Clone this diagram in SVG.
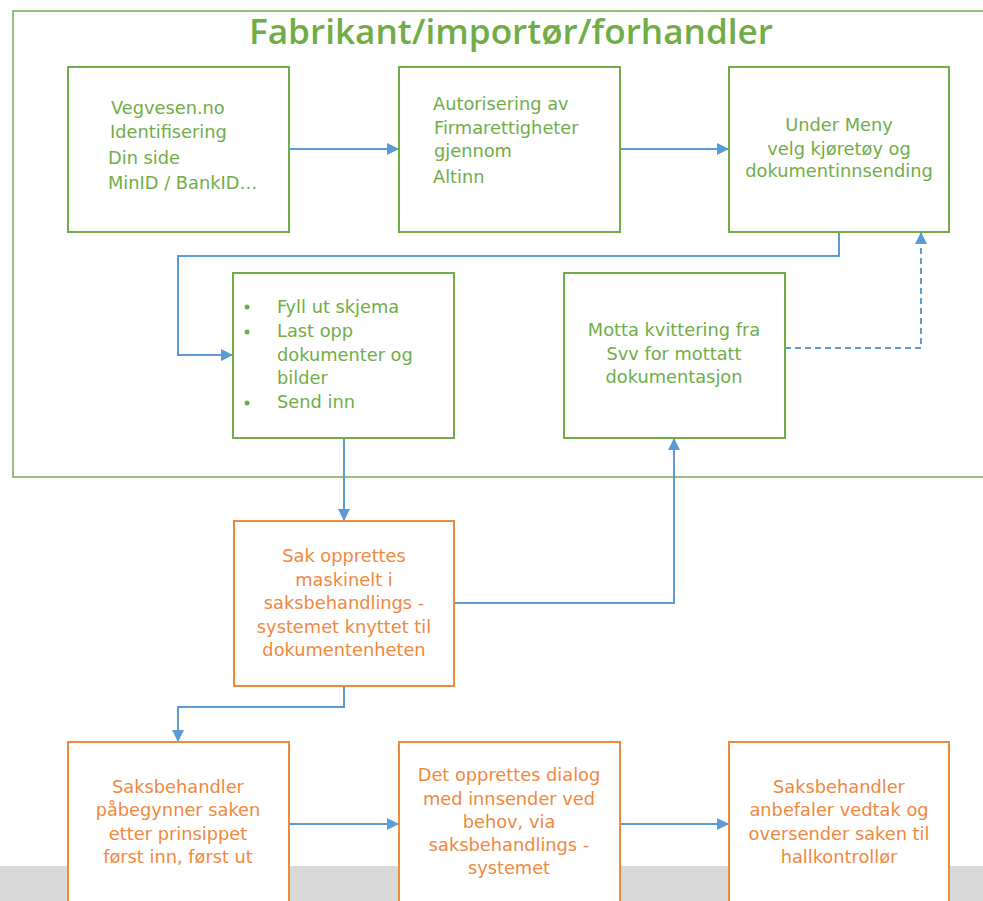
<svg xmlns="http://www.w3.org/2000/svg" width="983" height="901" viewBox="0 0 983 901">
<style>
.g{fill:#fff;stroke:#70ad47;stroke-width:2}
.o{fill:#fff;stroke:#f0883e;stroke-width:2}
.gt{fill:#70ad47;font-family:"DejaVu Sans",sans-serif;font-size:17.8px}
.ot{fill:#f0883e;font-family:"DejaVu Sans",sans-serif;font-size:17.8px;text-anchor:middle}
.c{text-anchor:middle}
.ln{fill:none;stroke:#5b9bd5;stroke-width:2}
.dash{stroke-dasharray:6 4}
</style>
<defs>
<marker id="ah" viewBox="0 0 10 10" refX="10" refY="5" markerWidth="13" markerHeight="12" orient="auto" markerUnits="userSpaceOnUse">
<path d="M0,0 L10,5 L0,10 Z" fill="#5b9bd5"/>
</marker>
</defs>
<rect x="0" y="866" width="983" height="35" fill="#d9d9d9"/>
<g id="container">
<rect x="13" y="11" width="980" height="466" fill="none" stroke="#70ad47" stroke-width="1.5"/>
<text x="511" y="44" text-anchor="middle" font-family="'Open Sans','DejaVu Sans',sans-serif" font-weight="600" font-size="35" fill="#70ad47" textLength="524" lengthAdjust="spacingAndGlyphs">Fabrikant/importør/forhandler</text>
</g>
<g id="connectors">
<path class="ln" d="M289,149 H399" marker-end="url(#ah)"/>
<path class="ln" d="M620,149 H729" marker-end="url(#ah)"/>
<path class="ln" d="M839,232 V256 H178 V355 H233" marker-end="url(#ah)"/>
<path class="ln dash" d="M785,348 H921 V232" marker-end="url(#ah)"/>
<path class="ln" d="M344,438 V521" marker-end="url(#ah)"/>
<path class="ln" d="M454,603 H674 V438" marker-end="url(#ah)"/>
<path class="ln" d="M344,686 V707 H178 V742" marker-end="url(#ah)"/>
<path class="ln" stroke-width="3" d="M289,824 H399" marker-end="url(#ah)"/>
<path class="ln" stroke-width="3" d="M620,824 H729" marker-end="url(#ah)"/>
</g>
<g id="n1">
<rect class="g" x="68" y="67" width="221" height="165"/>
<text class="gt" x="111" y="114">Vegvesen.no</text>
<text class="gt" x="110" y="138">Identifisering</text>
<text class="gt" x="108" y="164">Din side</text>
<text class="gt" x="108" y="189">MinID / BankID…</text>
</g>
<g id="n2">
<rect class="g" x="399" y="67" width="221" height="165"/>
<text class="gt" x="433" y="110">Autorisering av</text>
<text class="gt" x="434" y="134">Firmarettigheter</text>
<text class="gt" x="434" y="157">gjennom</text>
<text class="gt" x="433" y="183">Altinn</text>
</g>
<g id="n3">
<rect class="g" x="729" y="67" width="220" height="165"/>
<text class="gt c" x="839" y="131">Under Meny</text>
<text class="gt c" x="839" y="155">velg kjøretøy og</text>
<text class="gt c" x="839" y="177">dokumentinnsending</text>
</g>
<g id="n4">
<rect class="g" x="233" y="273" width="221" height="165"/>
<circle cx="247" cy="307" r="2.5" fill="#70ad47"/>
<circle cx="247" cy="332" r="2.5" fill="#70ad47"/>
<circle cx="247" cy="403" r="2.5" fill="#70ad47"/>
<text class="gt" x="277" y="313">Fyll ut skjema</text>
<text class="gt" x="277" y="337">Last opp</text>
<text class="gt" x="277" y="361">dokumenter og</text>
<text class="gt" x="277" y="384">bilder</text>
<text class="gt" x="277" y="408">Send inn</text>
</g>
<g id="n5">
<rect class="g" x="564" y="273" width="221" height="165"/>
<text class="gt c" x="674" y="336">Motta kvittering fra</text>
<text class="gt c" x="674" y="360">Svv for mottatt</text>
<text class="gt c" x="674" y="383">dokumentasjon</text>
</g>
<g id="n6">
<rect class="o" x="234" y="521" width="220" height="165"/>
<text class="ot" x="344" y="562">Sak opprettes</text>
<text class="ot" x="344" y="586">maskinelt i</text>
<text class="ot" x="344" y="609">saksbehandlings -</text>
<text class="ot" x="344" y="633">systemet knyttet til</text>
<text class="ot" x="344" y="656">dokumentenheten</text>
</g>
<g id="n7">
<rect class="o" x="68" y="742" width="221" height="170"/>
<text class="ot" x="178" y="793">Saksbehandler</text>
<text class="ot" x="178" y="816">påbegynner saken</text>
<text class="ot" x="178" y="840">etter prinsippet</text>
<text class="ot" x="178" y="863">først inn, først ut</text>
</g>
<g id="n8">
<rect class="o" x="399" y="742" width="221" height="170"/>
<text class="ot" x="509" y="781">Det opprettes dialog</text>
<text class="ot" x="509" y="805">med innsender ved</text>
<text class="ot" x="509" y="828">behov, via</text>
<text class="ot" x="509" y="851">saksbehandlings -</text>
<text class="ot" x="509" y="874">systemet</text>
</g>
<g id="n9">
<rect class="o" x="729" y="742" width="220" height="170"/>
<text class="ot" x="839" y="793">Saksbehandler</text>
<text class="ot" x="839" y="816">anbefaler vedtak og</text>
<text class="ot" x="839" y="840">oversender saken til</text>
<text class="ot" x="839" y="863">hallkontrollør</text>
</g>
</svg>
